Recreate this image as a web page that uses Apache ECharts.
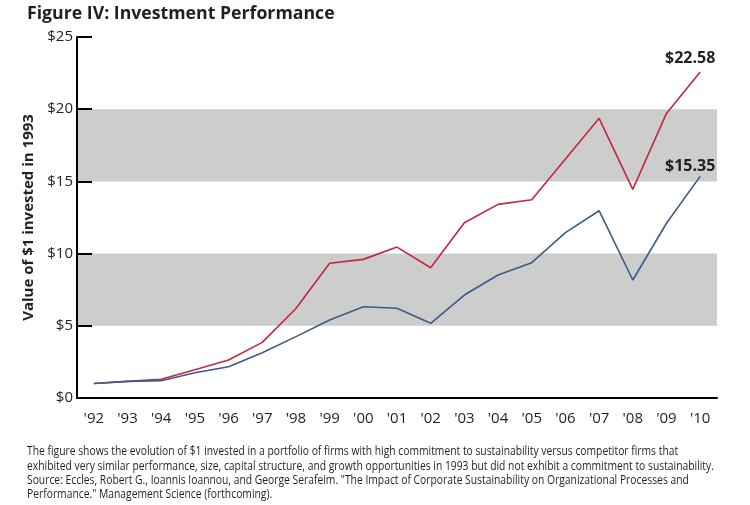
<!DOCTYPE html>
<html>
<head>
<meta charset="utf-8">
<script src="https://cdn.jsdelivr.net/npm/echarts@6/dist/echarts.min.js"></script>
<style>html,body{margin:0;padding:0;background:#fff}#c{width:750px;height:505px}</style>
</head>
<body>
<div id="c"></div>
<script>
const categories = ["'92","'93","'94","'95","'96","'97","'98","'99","'00","'01","'02","'03","'04","'05","'06","'07","'08","'09","'10"];
const sustainable = [1.0,1.15,1.3,1.95,2.63,3.85,6.2,9.33,9.6,10.45,9.02,12.14,13.41,13.73,16.55,19.37,14.45,19.71,22.58];
const traditional = [1.0,1.15,1.2,1.75,2.17,3.14,4.25,5.4,6.32,6.22,5.17,7.13,8.52,9.37,11.45,12.97,8.17,12.1,15.35];
const yTicks = [0,5,10,15,20,25];
const titleText = 'Figure IV: Investment Performance';
const yName = 'Value of $1 invested in 1993';
const footLines = [
 'The figure shows the evolution of $1 invested in a portfolio of firms with high commitment to sustainability versus competitor firms that',
 'exhibited very similar performance, size, capital structure, and growth opportunities in 1993 but did not exhibit a commitment to sustainability.',
 'Source: Eccles, Robert G., Ioannis Ioannou, and George Serafeim. "The Impact of Corporate Sustainability on Organizational Processes and',
 'Performance." Management Science (forthcoming).'
];

const TXT = '#231f20';
const FONT = "'Open Sans',sans-serif";
const chart = echarts.init(document.getElementById('c'));

function endMark(arr, offset){
  const i = arr.length - 1;
  return {
    symbol:'circle', symbolSize:0, silent:true,
    data:[{coord:[i, arr[i]], value:arr[i]}],
    label:{show:true, position:'top', distance:0, offset:offset,
      formatter: p => '$' + p.value.toFixed(2),
      fontSize:16, fontWeight:'bold', color:TXT, fontFamily:FONT}
  };
}

chart.setOption({
  animation:false,
  grid:{left:77, right:33, top:37, bottom:107, containLabel:false},
  graphic:[
    {type:'text', left:27, top:5, style:{text:titleText, fontSize:17.7, fontWeight:'bold', fill:TXT, fontFamily:FONT}},
    {type:'text', x:27, y:444.5, scaleX:0.86, style:{text:footLines.join('\n'), fontSize:12, lineHeight:14.4, fill:TXT, fontFamily:FONT}}
  ],
  xAxis:{
    type:'category', data:categories, boundaryGap:true,
    axisLine:{lineStyle:{color:'#000', width:2}},
    axisTick:{inside:true, length:10, interval:0, lineStyle:{color:'#000', width:2}},
    axisLabel:{interval:0, margin:13, fontSize:15, color:TXT, fontFamily:FONT}
  },
  yAxis:{
    type:'value', min:0, max:25, interval:5,
    name:yName, nameLocation:'middle', nameGap:37, nameRotate:90,
    nameTextStyle:{fontSize:15, fontWeight:'bold', color:TXT, fontFamily:FONT},
    axisLine:{show:true, lineStyle:{color:'#000', width:2}},
    axisTick:{show:true, inside:true, length:15, lineStyle:{color:'#000', width:2}},
    axisLabel:{margin:4, fontSize:15, color:TXT, fontFamily:FONT, formatter:v=> yTicks.includes(v) ? '$'+v : ''},
    splitLine:{show:false},
    splitArea:{show:true, areaStyle:{color:['rgba(0,0,0,0)','#cdcdcd']}}
  },
  series:[
    {type:'line', data:sustainable, symbol:'none', lineStyle:{color:'#c0283e', width:1.6}, z:3, markPoint:endMark(sustainable,[-10,-6])},
    {type:'line', data:traditional, symbol:'none', lineStyle:{color:'#3b5b88', width:1.6}, z:3, markPoint:endMark(traditional,[-10,-2])}
  ]
});
</script>
</body>
</html>
